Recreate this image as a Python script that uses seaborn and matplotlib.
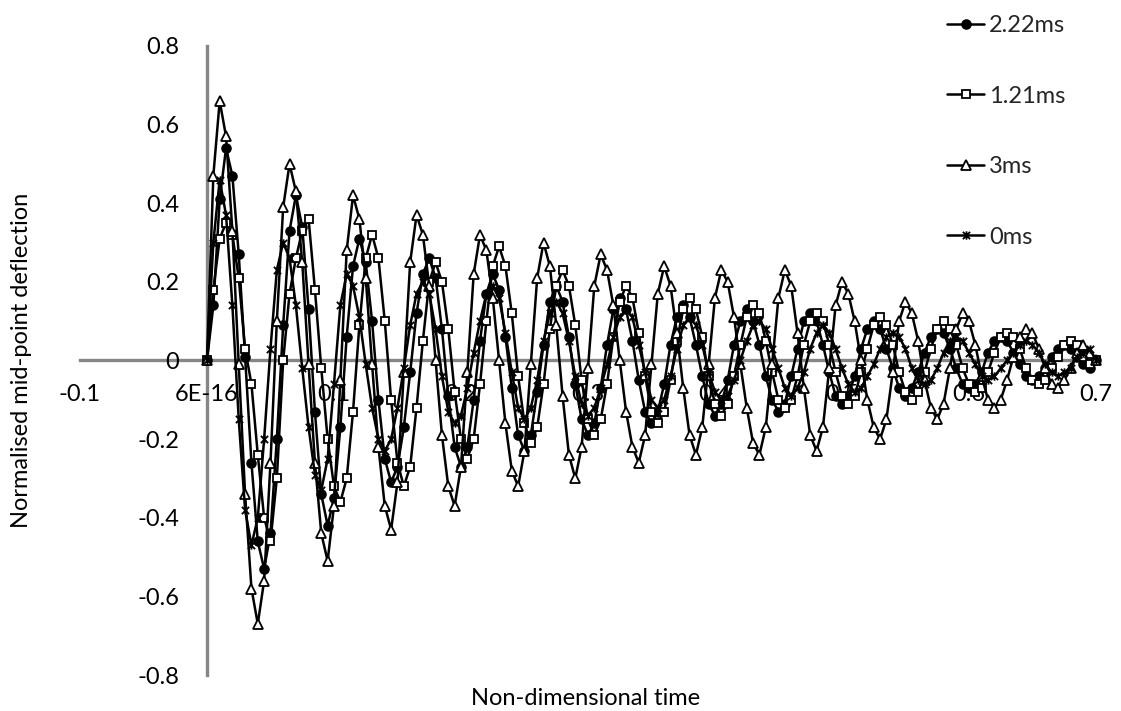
import numpy as np
import pandas as pd
import matplotlib
matplotlib.use("Agg")
import matplotlib.pyplot as plt
from matplotlib.path import Path
import seaborn as sns

# Non-dimensional time axis, sampled every 0.005 from 0 to 0.7
time = np.round(np.arange(141) * 0.005, 3)

# Normalised mid-point deflection for each delay
defl_222 = [
    0.00, 0.14, 0.41, 0.54,
    0.47, 0.27, 0.01, -0.26, -0.46, -0.53,
    -0.44, -0.20, 0.09, 0.33, 0.42,
    0.34, 0.13, -0.13, -0.34, -0.42,
    -0.35, -0.17, 0.06, 0.24, 0.31,
    0.25, 0.10, -0.10, -0.25, -0.31,
    -0.27, -0.17, -0.03, 0.12, 0.22, 0.26,
    0.21, 0.08, -0.09, -0.22, -0.27,
    -0.22, -0.10, 0.05, 0.17, 0.22,
    0.18, 0.06, -0.07, -0.19, -0.23,
    -0.19, -0.08, 0.04, 0.15, 0.19,
    0.15, 0.06, -0.06, -0.15, -0.19,
    -0.16, -0.07, 0.04, 0.13, 0.16,
    0.13, 0.05, -0.05, -0.13, -0.16,
    -0.13, -0.06, 0.04, 0.11, 0.14,
    0.11, 0.04, -0.04, -0.11, -0.14,
    -0.11, -0.05, 0.04, 0.10, 0.13,
    0.10, 0.04, -0.04, -0.10, -0.13,
    -0.11, -0.04, 0.03, 0.10, 0.12,
    0.10, 0.04, -0.03, -0.09, -0.11,
    -0.09, -0.04, 0.03, 0.08, 0.10,
    0.08, 0.03, -0.02, -0.07, -0.09,
    -0.07, -0.03, 0.02, 0.06, 0.08,
    0.07, 0.03, -0.02, -0.06, -0.07,
    -0.06, -0.03, 0.02, 0.05, 0.06,
    0.05, 0.02, -0.01, -0.04, -0.05,
    -0.04, -0.02, 0.01, 0.03, 0.04,
    0.03, 0.01, -0.01, -0.02, 0.00,
]

defl_121 = [
    0.00, 0.18, 0.31, 0.35, 0.32, 0.21, 0.03, -0.06, -0.24, -0.40, -0.46,
    -0.30, 0.00, 0.17, 0.26, 0.33, 0.36, 0.18, -0.02, -0.20, -0.32, -0.36,
    -0.30, -0.13, 0.09, 0.26, 0.32,
    0.26, 0.10, -0.10, -0.26, -0.32,
    -0.27, -0.12, 0.05, 0.20, 0.25,
    0.20, 0.08, -0.08, -0.20, -0.25,
    -0.20, -0.06, 0.10, 0.24, 0.29,
    0.24, 0.12, -0.04, -0.16, -0.21,
    -0.17, -0.06, 0.08, 0.19, 0.23,
    0.19, 0.09, -0.05, -0.15, -0.19,
    -0.15, -0.06, 0.06, 0.15, 0.19,
    0.16, 0.07, -0.04, -0.13, -0.16,
    -0.13, -0.05, 0.05, 0.13, 0.16,
    0.13, 0.06, -0.04, -0.11, -0.14,
    -0.11, -0.04, 0.04, 0.11, 0.14,
    0.12, 0.05, -0.03, -0.10, -0.12,
    -0.10, -0.04, 0.04, 0.10, 0.12,
    0.10, 0.04, -0.03, -0.09, -0.11,
    -0.09, -0.03, 0.03, 0.09, 0.11,
    0.09, 0.04, -0.03, -0.08, -0.10,
    -0.08, -0.03, 0.03, 0.08, 0.10,
    0.08, 0.04, -0.02, -0.06, -0.08,
    -0.07, -0.03, 0.02, 0.06, 0.07,
    0.06, 0.03, -0.02, -0.05, -0.06,
    -0.05, -0.02, 0.01, 0.04, 0.05,
    0.04, 0.01, -0.01, 0.00,
]

defl_3 = [
    0.00, 0.47, 0.66,
    0.57, 0.33, -0.01, -0.34, -0.58, -0.67,
    -0.56, -0.26, 0.10, 0.39, 0.50,
    0.43, 0.25, -0.01, -0.26, -0.44, -0.51,
    -0.37, -0.05, 0.28, 0.42,
    0.36, 0.21, -0.01, -0.22, -0.37, -0.43,
    -0.31, -0.03, 0.25, 0.37,
    0.32, 0.19, 0.00, -0.19, -0.32, -0.37,
    -0.27, -0.03, 0.22, 0.32,
    0.28, 0.16, 0.00, -0.16, -0.28, -0.32,
    -0.23, -0.01, 0.21, 0.30,
    0.24, 0.09, -0.09, -0.24, -0.30,
    -0.22, -0.02, 0.19, 0.27,
    0.23, 0.14, 0.00, -0.13, -0.22, -0.26,
    -0.19, -0.01, 0.17, 0.24,
    0.19, 0.07, -0.07, -0.19, -0.24,
    -0.17, -0.01, 0.16, 0.23,
    0.20, 0.11, -0.01, -0.12, -0.21, -0.24,
    -0.17, -0.01, 0.16, 0.23,
    0.19, 0.07, -0.07, -0.19, -0.23,
    -0.17, -0.02, 0.14, 0.20,
    0.17, 0.10, 0.00, -0.10, -0.17, -0.20,
    -0.15, -0.03, 0.10, 0.15,
    0.12, 0.05, -0.05, -0.12, -0.15,
    -0.11, -0.02, 0.08, 0.12,
    0.10, 0.04, -0.04, -0.10, -0.12,
    -0.10, -0.05, 0.01, 0.06, 0.08,
    0.07, 0.03, -0.02, -0.06, -0.07,
    -0.05, -0.02, 0.02, 0.04,
    0.02, 0.00,
]

defl_0 = [
    0.00, 0.30, 0.46,
    0.37, 0.14, -0.15, -0.38, -0.47,
    -0.40, -0.20, 0.03, 0.23, 0.30,
    0.26, 0.14, -0.02, -0.17, -0.29, -0.33,
    -0.25, -0.06, 0.14, 0.22,
    0.19, 0.11, -0.01, -0.12, -0.20, -0.23,
    -0.20, -0.12, -0.02, 0.09, 0.17, 0.20,
    0.17, 0.08, -0.04, -0.13, -0.16,
    -0.14, -0.07, 0.02, 0.10, 0.17, 0.19,
    0.16, 0.07, -0.03, -0.12, -0.15,
    -0.12, -0.05, 0.05, 0.12, 0.15,
    0.12, 0.05, -0.04, -0.11, -0.14,
    -0.12, -0.07, -0.01, 0.06, 0.11, 0.13,
    0.11, 0.04, -0.03, -0.10, -0.12,
    -0.10, -0.04, 0.03, 0.09, 0.11,
    0.09, 0.04, -0.03, -0.08, -0.10,
    -0.09, -0.05, 0.00, 0.05, 0.09, 0.10,
    0.08, 0.03, -0.02, -0.07, -0.09,
    -0.07, -0.03, 0.03, 0.07, 0.09,
    0.07, 0.03, -0.02, -0.06, -0.08,
    -0.07, -0.04, -0.01, 0.03, 0.06, 0.07,
    0.06, 0.03, -0.02, -0.05, -0.06,
    -0.05, -0.02, 0.02, 0.05, 0.06,
    0.05, 0.02, -0.01, -0.04, -0.05,
    -0.04, -0.02, 0.00, 0.02, 0.04, 0.05,
    0.04, 0.02, -0.01, -0.03, -0.04,
    -0.03, -0.02, 0.01, 0.02, 0.03, 0.00,
]

series_names = ["2.22ms", "1.21ms", "3ms", "0ms"]
series_values = [defl_222, defl_121, defl_3, defl_0]

x_ticks = [-0.1, 0.0, 0.1, 0.2, 0.3, 0.4, 0.5, 0.6, 0.7]
x_tick_labels = ["-0.1", "6E-16", "0.1", "0.2", "0.3", "0.4", "0.5", "0.6", "0.7"]
y_ticks = [-0.8, -0.6, -0.4, -0.2, 0.0, 0.2, 0.4, 0.6, 0.8]
y_tick_labels = ["-0.8", "-0.6", "-0.4", "-0.2", "0", "0.2", "0.4", "0.6", "0.8"]

df = pd.concat(
    [pd.DataFrame({"time": time, "deflection": vals, "series": name})
     for name, vals in zip(series_names, series_values)],
    ignore_index=True,
)

# Asterisk-style marker: an X crossed by a vertical stroke
star = Path(
    [(-1, -1), (1, 1), (-1, 1), (1, -1), (0, -1.15), (0, 1.15)],
    [Path.MOVETO, Path.LINETO, Path.MOVETO, Path.LINETO, Path.MOVETO, Path.LINETO],
)

marker_styles = {
    "2.22ms": dict(marker="o", markersize=6.3, markerfacecolor="black"),
    "1.21ms": dict(marker="s", markersize=6.0, markerfacecolor="white"),
    "3ms": dict(marker="^", markersize=6.8, markerfacecolor="white"),
    "0ms": dict(marker=star, markersize=6.0, markerfacecolor="none"),
}

sns.set_theme(style="white")
plt.rcParams["font.family"] = ["Lato", "DejaVu Sans"]
plt.rcParams["axes.unicode_minus"] = False

axis_grey = "#868686"
fs = 17

fig = plt.figure(figsize=(11.21, 7.11), dpi=100)
ax = fig.add_axes([0.07136, 0.05063, 0.9063, 0.8847])

for name in series_names:
    sub = df[df["series"] == name]
    sns.lineplot(
        data=sub, x="time", y="deflection", ax=ax,
        color="black", linewidth=1.8, estimator=None, sort=False,
        markeredgecolor="black", markeredgewidth=1.3,
        label=name, clip_on=False, **marker_styles[name],
    )

ax.set_xlim(-0.1, 0.7)
ax.set_ylim(-0.8, 0.8)
ax.set_xticks(x_ticks)
ax.set_xticklabels(x_tick_labels)
ax.set_yticks(y_ticks)
ax.set_yticklabels(y_tick_labels)
ax.set_xlabel("")
ax.set_ylabel("")

for side in ("top", "right"):
    ax.spines[side].set_visible(False)
ax.spines["left"].set_position(("data", 0))
ax.spines["bottom"].set_position(("data", 0))
for side in ("left", "bottom"):
    ax.spines[side].set_color(axis_grey)
    ax.spines[side].set_linewidth(2.4)
    ax.spines[side].set_zorder(0.5)
ax.set_axisbelow(True)

ax.tick_params(axis="both", which="major", direction="out", length=7,
               width=2.4, color=axis_grey, labelsize=fs, labelcolor="black")
ax.tick_params(axis="y", pad=13)
ax.tick_params(axis="x", pad=10)

handles, labels = ax.get_legend_handles_labels()
ax.legend(
    handles, labels, loc="upper left", bbox_to_anchor=(0.845, 0.979),
    bbox_transform=fig.transFigure, frameon=False, fontsize=fs,
    handlelength=1.57, handletextpad=0.2, labelspacing=2.1,
    borderpad=0, borderaxespad=0,
)

fig.text(0.0196, 0.493, "Normalised mid-point deflection", rotation=90,
         ha="center", va="center", fontsize=fs, color="black")
fig.text(0.5227, 0.0169, "Non-dimensional time", ha="center", va="center",
         fontsize=fs, color="black")

fig.savefig("out.png", dpi=100, facecolor="white")
